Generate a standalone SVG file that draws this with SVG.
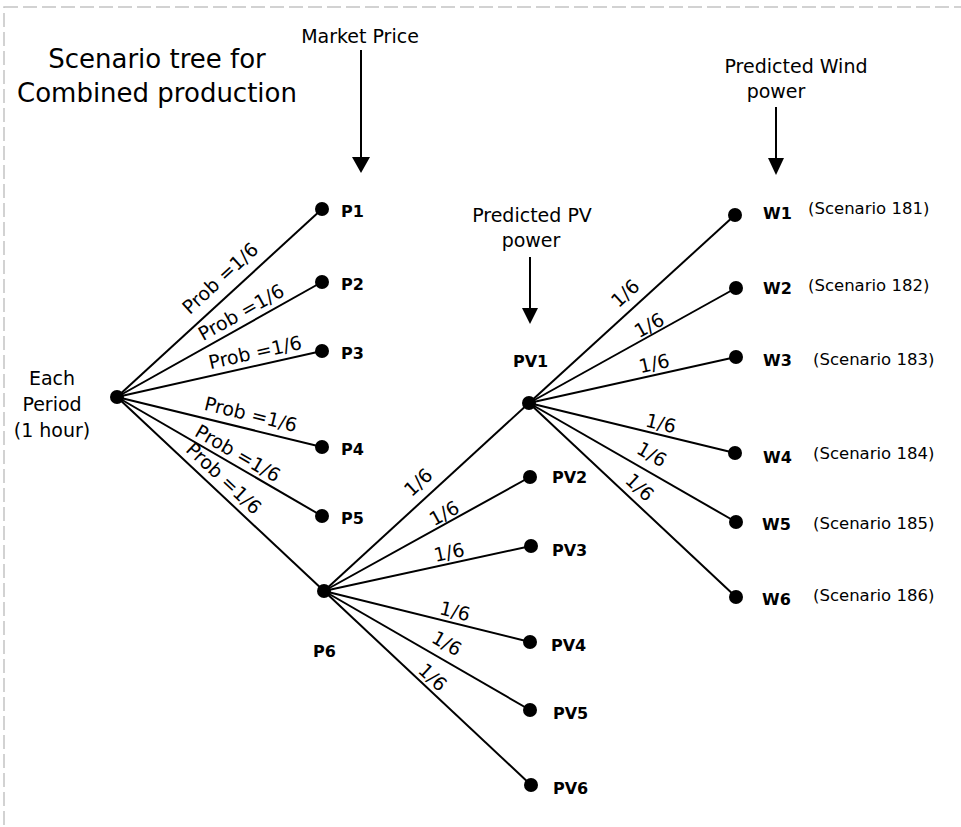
<svg xmlns="http://www.w3.org/2000/svg" width="961" height="827" viewBox="0 0 961 827">
<defs>
<marker id="ah" markerWidth="16" markerHeight="17" refX="8" refY="17" orient="auto" markerUnits="userSpaceOnUse" viewBox="0 0 16 17">
<path d="M0,0 L16,0 L8,17 Z" fill="#000"/>
</marker>
</defs>
<style>
text{font-family:"DejaVu Sans","Liberation Sans",sans-serif;fill:#000}
.title{font-size:26px;text-anchor:middle}
.lbl{font-size:19px;text-anchor:middle}
.el{font-size:19px;text-anchor:middle}
.nl{font-size:16px;font-weight:bold}
.sc{font-size:16.5px}
.edge{stroke:#000;stroke-width:2;fill:none}
.arr{stroke:#000;stroke-width:2;fill:none}
.dot{fill:#000}
</style>
<rect x="4" y="7" width="1100" height="1000" fill="none" stroke="#c4c4c4" stroke-width="1.5" stroke-dasharray="14 5"/>

<g id="title">
<text class="title" x="157" y="68">Scenario tree for</text>
<text class="title" x="157" y="102">Combined production</text>
</g>

<g id="headers">
<text class="lbl" x="360" y="43">Market Price</text>
<line class="arr" x1="361" y1="50" x2="361" y2="157"/>
<path d="M352,157 L370,157 L361,173 Z" fill="#000"/>
<text class="lbl" x="532" y="222">Predicted PV</text>
<text class="lbl" x="531" y="247">power</text>
<line class="arr" x1="530" y1="257" x2="530" y2="308"/>
<path d="M522,308 L538,308 L530,324 Z" fill="#000"/>
<text class="lbl" x="796" y="73">Predicted Wind</text>
<text class="lbl" x="776" y="98">power</text>
<line class="arr" x1="776" y1="107" x2="776" y2="158"/>
<path d="M768,158 L784,158 L776,175 Z" fill="#000"/>
</g>

<g id="connectors">
<line class="edge" x1="117" y1="397" x2="322" y2="209"/>
<line class="edge" x1="117" y1="397" x2="322" y2="282"/>
<line class="edge" x1="117" y1="397" x2="322" y2="351"/>
<line class="edge" x1="117" y1="397" x2="322" y2="447"/>
<line class="edge" x1="117" y1="397" x2="322" y2="516"/>
<line class="edge" x1="117" y1="397" x2="324" y2="591"/>
<line class="edge" x1="324" y1="591" x2="529" y2="403"/>
<line class="edge" x1="324" y1="591" x2="530" y2="477"/>
<line class="edge" x1="324" y1="591" x2="531" y2="546"/>
<line class="edge" x1="324" y1="591" x2="530" y2="642"/>
<line class="edge" x1="324" y1="591" x2="530" y2="710"/>
<line class="edge" x1="324" y1="591" x2="531" y2="785"/>
<line class="edge" x1="529" y1="403" x2="735" y2="215"/>
<line class="edge" x1="529" y1="403" x2="736" y2="288"/>
<line class="edge" x1="529" y1="403" x2="736" y2="357"/>
<line class="edge" x1="529" y1="403" x2="735" y2="453"/>
<line class="edge" x1="529" y1="403" x2="736" y2="522"/>
<line class="edge" x1="529" y1="403" x2="736" y2="597"/>
<text class="el" transform="translate(220,278) rotate(-42.5)" y="7">Prob =1/6</text>
<text class="el" transform="translate(241,312) rotate(-29.3)" y="7">Prob =1/6</text>
<text class="el" transform="translate(255,352) rotate(-12.6)" y="7">Prob =1/6</text>
<text class="el" transform="translate(251,414) rotate(13.7)" y="7">Prob =1/6</text>
<text class="el" transform="translate(238,453) rotate(30.1)" y="7">Prob =1/6</text>
<text class="el" transform="translate(224,478) rotate(43.1)" y="7">Prob =1/6</text>
<text class="el" transform="translate(418,482) rotate(-42.5)" y="7">1/6</text>
<text class="el" transform="translate(444,513) rotate(-29)" y="7">1/6</text>
<text class="el" transform="translate(449,552) rotate(-12.3)" y="7">1/6</text>
<text class="el" transform="translate(455,611) rotate(13.9)" y="7">1/6</text>
<text class="el" transform="translate(447,643) rotate(30)" y="7">1/6</text>
<text class="el" transform="translate(433,677) rotate(43.1)" y="7">1/6</text>
<text class="el" transform="translate(625,293) rotate(-42.4)" y="7">1/6</text>
<text class="el" transform="translate(649,325) rotate(-29)" y="7">1/6</text>
<text class="el" transform="translate(654,363) rotate(-12.5)" y="7">1/6</text>
<text class="el" transform="translate(661,423) rotate(13.6)" y="7">1/6</text>
<text class="el" transform="translate(652,454) rotate(29.9)" y="7">1/6</text>
<text class="el" transform="translate(640,487) rotate(43.1)" y="7">1/6</text>
</g>

<g id="root">
<circle class="dot" cx="117" cy="397" r="7"/>
<text class="lbl" x="52" y="385">Each</text>
<text class="lbl" x="52" y="411">Period</text>
<text class="lbl" x="52" y="437">(1 hour)</text>
</g>

<g id="P1"><circle class="dot" cx="322" cy="209" r="7"/><text class="nl" x="341" y="217">P1</text></g>
<g id="P2"><circle class="dot" cx="322" cy="282" r="7"/><text class="nl" x="341" y="290">P2</text></g>
<g id="P3"><circle class="dot" cx="322" cy="351" r="7"/><text class="nl" x="341" y="359">P3</text></g>
<g id="P4"><circle class="dot" cx="322" cy="447" r="7"/><text class="nl" x="341" y="455">P4</text></g>
<g id="P5"><circle class="dot" cx="322" cy="516" r="7"/><text class="nl" x="341" y="524">P5</text></g>
<g id="P6"><circle class="dot" cx="324" cy="591" r="7"/><text class="nl" x="313" y="657">P6</text></g>

<g id="PV1"><circle class="dot" cx="529" cy="403" r="7"/><text class="nl" x="513" y="367">PV1</text></g>
<g id="PV2"><circle class="dot" cx="530" cy="477" r="7"/><text class="nl" x="552" y="483">PV2</text></g>
<g id="PV3"><circle class="dot" cx="531" cy="546" r="7"/><text class="nl" x="552" y="556">PV3</text></g>
<g id="PV4"><circle class="dot" cx="530" cy="642" r="7"/><text class="nl" x="551" y="651">PV4</text></g>
<g id="PV5"><circle class="dot" cx="530" cy="710" r="7"/><text class="nl" x="553" y="719">PV5</text></g>
<g id="PV6"><circle class="dot" cx="531" cy="785" r="7"/><text class="nl" x="553" y="794">PV6</text></g>

<g id="W1"><circle class="dot" cx="735" cy="215" r="7"/><text class="nl" x="763" y="219">W1</text><text class="sc" x="808" y="214">(Scenario 181)</text></g>
<g id="W2"><circle class="dot" cx="736" cy="288" r="7"/><text class="nl" x="763" y="294">W2</text><text class="sc" x="808" y="291">(Scenario 182)</text></g>
<g id="W3"><circle class="dot" cx="736" cy="357" r="7"/><text class="nl" x="763" y="366">W3</text><text class="sc" x="813" y="365">(Scenario 183)</text></g>
<g id="W4"><circle class="dot" cx="735" cy="453" r="7"/><text class="nl" x="763" y="463">W4</text><text class="sc" x="813" y="459">(Scenario 184)</text></g>
<g id="W5"><circle class="dot" cx="736" cy="522" r="7"/><text class="nl" x="762" y="530">W5</text><text class="sc" x="813" y="529">(Scenario 185)</text></g>
<g id="W6"><circle class="dot" cx="736" cy="597" r="7"/><text class="nl" x="762" y="605">W6</text><text class="sc" x="813" y="601">(Scenario 186)</text></g>
</svg>
